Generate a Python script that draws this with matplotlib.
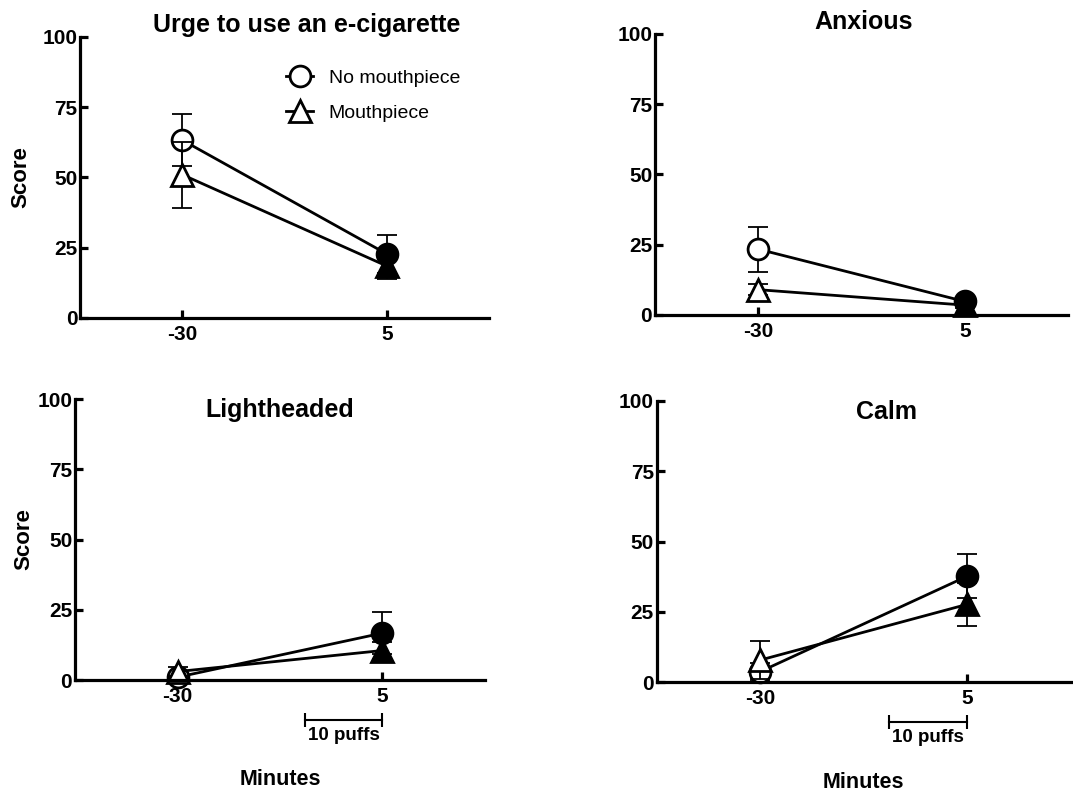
import matplotlib
matplotlib.use("Agg")
import matplotlib.pyplot as plt
from matplotlib.lines import Line2D
from matplotlib.transforms import blended_transform_factory

plt.rcParams["font.family"] = ["Liberation Sans", "DejaVu Sans"]
plt.rcParams["font.weight"] = "bold"

# time points (minutes)
time = [-30, 5]
yticks = [0, 25, 50, 75, 100]

titles = ["Urge to use an e-cigarette", "Anxious", "Lightheaded", "Calm"]

# mean scores and SEM, per panel: [at -30, at 5]
no_mouth = [[63.3, 22.8], [23.4, 4.8], [1.0, 16.7], [3.8, 37.7]]
no_mouth_err = [[9.3, 6.7], [8.0, 1.5], [0.8, 7.5], [3.2, 7.9]]
mouth = [[51.0, 18.5], [9.0, 3.5], [3.0, 10.5], [7.9, 27.7]]
mouth_err = [[11.7, 4.5], [2.0, 1.0], [1.5, 3.0], [6.8, 7.7]]

# open symbols before puffing, filled after
fills = ["white", "black"]

fig = plt.figure(figsize=(10.73, 7.92), dpi=100)

# [left, bottom, width, height] in figure fraction
rects = [
    [0.0746, 0.5985, 0.3811, 0.3548],
    [0.6104, 0.6023, 0.3850, 0.3551],
    [0.0699, 0.1414, 0.3821, 0.3548],
    [0.6120, 0.1385, 0.3860, 0.3555],
]
title_pos = [(0.555, 1.043), (0.504, 1.040), (0.50, 0.961), (0.556, 0.960)]


def draw_series(ax, vals, errs, marker, ms, z):
    ax.errorbar(time, vals, yerr=errs, fmt="none", ecolor="black",
                elinewidth=1.3, capsize=7, capthick=1.3, zorder=z, clip_on=False)
    ax.plot(time, vals, "-", color="black", lw=2.0, zorder=z + 0.1, clip_on=False)
    for t, v, fc in zip(time, vals, fills):
        ax.plot([t], [v], marker=marker, ms=ms, mfc=fc, mec="black", mew=2.0,
                ls="none", zorder=z + 0.2, clip_on=False)


for i, rect in enumerate(rects):
    ax = fig.add_axes(rect)
    draw_series(ax, no_mouth[i], no_mouth_err[i], "o", 15, 3)
    draw_series(ax, mouth[i], mouth_err[i], "^", 16, 4)

    ax.set_xlim(-47.5, 22.5)
    ax.set_ylim(0, 100)
    ax.set_xticks(time)
    ax.set_xticklabels(["-30", "5"])
    ax.set_yticks(yticks)
    for s in ["top", "right"]:
        ax.spines[s].set_visible(False)
    for s in ["left", "bottom"]:
        ax.spines[s].set_linewidth(2.3)
        ax.spines[s].set_zorder(5)
    ax.tick_params(axis="both", direction="in", length=6, width=2.3,
                   labelsize=15)
    ax.tick_params(axis="x", pad=5)
    ax.tick_params(axis="y", pad=2)
    for lab in ax.get_xticklabels() + ax.get_yticklabels():
        lab.set_fontweight("bold")

    tx, ty = title_pos[i]
    ax.text(tx, ty, titles[i], transform=ax.transAxes, ha="center",
            va="center", fontsize=18, fontweight="bold")

    if i in (0, 2):
        ax.set_ylabel("Score", fontsize=16, fontweight="bold")
        ax.yaxis.set_label_coords(-0.118 if i == 0 else -0.10, 0.5)

    if i in (2, 3):
        ax.text(0.5, -0.355, "Minutes", transform=ax.transAxes, ha="center",
                va="center", fontsize=15.5, fontweight="bold")
        # "10 puffs" scale bar below the x axis
        trans = blended_transform_factory(ax.transData, ax.transAxes)
        ax.plot([-8.2, 5], [-0.141, -0.141], "-", color="black", lw=1.5,
                transform=trans, clip_on=False)
        ax.plot([-8.2, 5], [-0.141, -0.141], "|", color="black", ms=10,
                mew=1.5, transform=trans, clip_on=False)
        ax.text(-1.6, -0.197, "10 puffs", transform=trans, ha="center",
                va="center", fontsize=13.5, fontweight="bold")

    if i == 0:
        handles = [
            Line2D([], [], color="black", lw=2.0, marker="o", ms=15,
                   mfc="white", mec="black", mew=2.0),
            Line2D([], [], color="black", lw=2.0, marker="^", ms=16,
                   mfc="white", mec="black", mew=2.0),
        ]
        leg = ax.legend(handles, ["No mouthpiece", "Mouthpiece"],
                        loc="upper left", bbox_to_anchor=(0.48, 0.92),
                        frameon=False, fontsize=14, handlelength=1.4,
                        handletextpad=0.8, labelspacing=0.9, borderpad=0)
        for t in leg.get_texts():
            t.set_fontweight("normal")

fig.savefig("out.png", dpi=100)
